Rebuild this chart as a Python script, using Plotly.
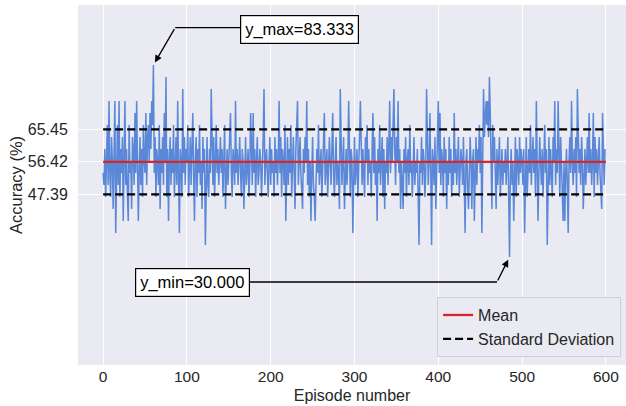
import numpy as np
import plotly.graph_objects as go

# Number of correctly classified queries (out of 30) per episode
n_queries = 30
n_correct = [
    16, 15, 18, 14, 17, 20, 15, 22, 16, 14, 19, 17, 13, 18, 22, 11, 17, 20, 15, 22,
    14, 18, 16, 19, 12, 17, 22, 15, 18, 14, 12, 20, 16, 17, 13, 19, 18, 15, 21, 16,
    22, 17, 12, 16, 19, 15, 18, 14, 20, 17, 16, 21, 15, 19, 20, 17, 21, 18, 22, 20,
    25, 16, 19, 14, 18, 17, 15, 20, 13, 18, 16, 19, 15, 21, 17, 24, 14, 18, 12, 17,
    19, 15, 18, 16, 20, 14, 17, 19, 15, 22, 16, 11, 18, 17, 14, 23, 16, 19, 15, 18,
    17, 20, 14, 16, 19, 15, 18, 21, 16, 12, 17, 19, 14, 18, 16, 20, 15, 17, 13, 19,
    16, 18, 10, 17, 19, 15, 14, 18, 16, 23, 17, 15, 19, 14, 17, 20, 16, 18, 15, 17,
    19, 16, 18, 14, 17, 20, 13, 16, 18, 15, 17, 19, 21, 16, 14, 18, 17, 15, 22, 16,
    18, 15, 17, 19, 16, 14, 18, 17, 13, 16, 19, 15, 17, 18, 14, 16, 21, 17, 15, 21,
    16, 18, 14, 17, 19, 15, 16, 18, 17, 14, 16, 19, 23, 15, 17, 18, 16, 14, 17, 19,
    15, 18, 16, 17, 14, 19, 16, 18, 15, 17, 22, 16, 19, 14, 18, 17, 15, 20, 12, 17,
    19, 15, 18, 16, 20, 14, 17, 19, 16, 13, 18, 20, 22, 15, 17, 19, 16, 14, 13, 18,
    16, 19, 17, 22, 15, 18, 14, 17, 12, 16, 19, 15, 14, 12, 17, 18, 16, 20, 15, 17,
    18, 14, 16, 19, 21, 15, 17, 18, 14, 16, 19, 17, 15, 18, 21, 16, 14, 17, 19, 15,
    17, 16, 13, 23, 18, 15, 17, 19, 13, 16, 18, 15, 17, 22, 16, 14, 18, 17, 11, 16,
    19, 15, 17, 18, 14, 16, 19, 22, 17, 15, 18, 16, 14, 19, 17, 20, 15, 18, 16, 17,
    14, 18, 21, 16, 19, 15, 17, 12, 18, 16, 20, 15, 17, 19, 14, 18, 13, 17, 16, 19,
    15, 18, 22, 16, 19, 17, 20, 23, 18, 15, 19, 17, 22, 16, 18, 13, 17, 15, 13, 18,
    16, 19, 14, 17, 18, 15, 20, 16, 17, 14, 18, 19, 15, 17, 16, 18, 14, 10, 17, 16,
    19, 15, 18, 17, 14, 16, 23, 18, 15, 17, 21, 16, 10, 18, 17, 15, 19, 13, 16, 18,
    22, 16, 21, 15, 18, 17, 14, 19, 16, 18, 13, 17, 15, 19, 16, 18, 14, 17, 15, 21,
    16, 18, 15, 17, 19, 14, 16, 18, 17, 15, 19, 16, 11, 17, 18, 15, 13, 16, 19, 17,
    13, 17, 18, 12, 16, 19, 15, 18, 17, 20, 16, 19, 11, 20, 23, 19, 21, 22, 20, 22,
    19, 24, 21, 18, 13, 20, 17, 19, 16, 13, 18, 15, 17, 19, 14, 16, 18, 15, 17, 16,
    18, 15, 17, 19, 14, 9, 16, 18, 15, 17, 12, 16, 19, 14, 18, 17, 15, 19, 16, 18,
    17, 15, 18, 11, 16, 19, 14, 17, 18, 16, 20, 15, 17, 19, 16, 18, 14, 22, 17, 12,
    16, 19, 17, 15, 18, 14, 17, 20, 16, 18, 10, 17, 19, 15, 18, 16, 14, 19, 17, 22,
    15, 18, 16, 22, 17, 14, 19, 16, 15, 12, 17, 12, 16, 18, 15, 11, 17, 19, 16, 22,
    17, 15, 18, 16, 19, 14, 23, 17, 16, 18, 15, 19, 17, 13, 16, 18, 15, 17, 19, 16,
    21, 16, 18, 15, 17, 21, 14, 19, 16, 18, 15, 17, 19, 16, 14, 13, 21, 17, 15, 18,
]
mean_acc = 56.42
std_acc = 9.03
ytick_vals = [47.39, 56.42, 65.45]
ytick_text = ["47.39", "56.42", "65.45"]
xtick_vals = [0, 100, 200, 300, 400, 500, 600]

accuracy = np.array(n_correct) * 100.0 / n_queries
episodes = np.arange(len(accuracy))
i_max = int(np.argmax(accuracy))
i_min = int(np.argmin(accuracy))
x_end = len(accuracy)

BG = "#EAEAF2"
TXT = "#262626"
FONT = "Arial, Liberation Sans, sans-serif"

fig = go.Figure()
fig.add_trace(go.Scatter(x=episodes, y=accuracy, mode="lines",
                         line=dict(color="#5A87D8", width=1.5),
                         showlegend=False, hoverinfo="skip"))
fig.add_trace(go.Scatter(x=[0, x_end], y=[mean_acc, mean_acc], mode="lines",
                         line=dict(color="#D62728", width=2.3), name="Mean"))
fig.add_trace(go.Scatter(x=[0, x_end], y=[mean_acc + std_acc] * 2, mode="lines",
                         line=dict(color="black", width=2.3, dash="8px,4px"),
                         name="Standard Deviation"))
fig.add_trace(go.Scatter(x=[0, x_end], y=[mean_acc - std_acc] * 2, mode="lines",
                         line=dict(color="black", width=2.3, dash="8px,4px"),
                         showlegend=False))

# y_max annotation (bent connector)
bend_max = (86, 93.7)
box_max_left = 163.5
box_max_y = 93.2
fig.add_shape(type="line", x0=bend_max[0], y0=bend_max[1], x1=box_max_left, y1=bend_max[1],
              line=dict(color="black", width=1.3))
fig.add_annotation(x=i_max, y=accuracy[i_max], ax=bend_max[0], ay=bend_max[1],
                   axref="x", ayref="y", xref="x", yref="y", text="",
                   showarrow=True, arrowhead=2, arrowsize=1.1, arrowwidth=1.3,
                   arrowcolor="black", standoff=3)
fig.add_annotation(x=box_max_left, y=box_max_y, xref="x", yref="y",
                   xanchor="left", yanchor="middle", showarrow=False,
                   text=f"y_max={accuracy[i_max]:.3f}",
                   font=dict(family=FONT, size=16.5, color="black"),
                   bgcolor="white", bordercolor="black", borderwidth=1.2, borderpad=4)

# y_min annotation (bent connector)
bend_min = (470, 23.06)
box_min_right = 175.4
box_min_y = 22.9
fig.add_shape(type="line", x0=box_min_right, y0=bend_min[1], x1=bend_min[0], y1=bend_min[1],
              line=dict(color="black", width=1.3))
fig.add_annotation(x=i_min, y=accuracy[i_min], ax=bend_min[0], ay=bend_min[1],
                   axref="x", ayref="y", xref="x", yref="y", text="",
                   showarrow=True, arrowhead=2, arrowsize=1.1, arrowwidth=1.3,
                   arrowcolor="black", standoff=3)
fig.add_annotation(x=box_min_right, y=box_min_y, xref="x", yref="y",
                   xanchor="right", yanchor="middle", showarrow=False,
                   text=f"y_min={accuracy[i_min]:.3f}",
                   font=dict(family=FONT, size=16.5, color="black"),
                   bgcolor="white", bordercolor="black", borderwidth=1.2, borderpad=4)

fig.update_layout(
    width=626, height=406,
    margin=dict(l=78, r=0, t=5, b=41),
    paper_bgcolor="white", plot_bgcolor=BG,
    font=dict(family=FONT, size=16, color=TXT),
    legend=dict(x=0.991, y=0.022, xanchor="right", yanchor="bottom",
                bgcolor=BG, bordercolor="#CFCFD6", borderwidth=1,
                font=dict(family=FONT, size=16, color=TXT),
                tracegroupgap=0, itemwidth=30),
    xaxis=dict(range=[-30, 624], tickvals=xtick_vals, showgrid=True,
               gridcolor="white", gridwidth=1.2, zeroline=False, showline=False,
               ticks="", tickfont=dict(size=15.5, color=TXT),
               title=dict(text="Episode number", font=dict(size=16, color=TXT), standoff=6)),
    yaxis=dict(range=[0, 100], tickvals=ytick_vals, ticktext=ytick_text, showgrid=True,
               gridcolor="white", gridwidth=1.2, zeroline=False, showline=False,
               ticks="outside", ticklen=6, tickcolor="rgba(0,0,0,0)",
               tickfont=dict(size=16, color=TXT),
               title=dict(text="Accuracy (%)", font=dict(size=16.5, color=TXT), standoff=0)),
)

fig.write_html("out.html")
